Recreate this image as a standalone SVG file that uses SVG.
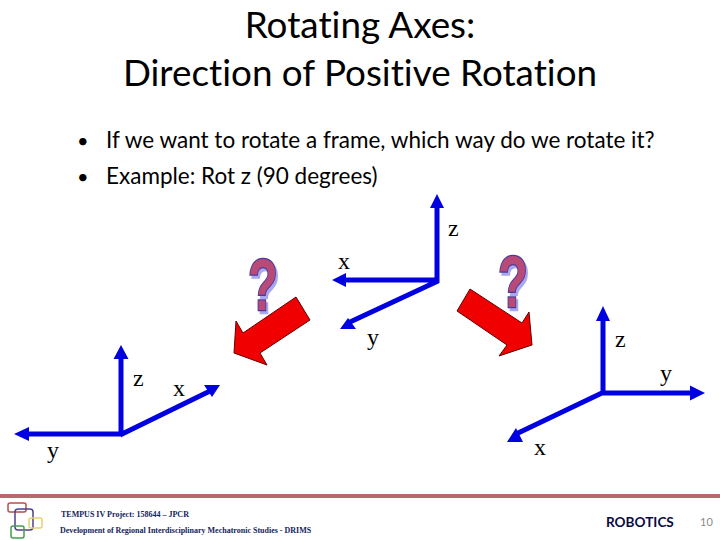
<svg xmlns="http://www.w3.org/2000/svg" width="720" height="540" viewBox="0 0 720 540">
<style>
.t{font-family:"Lato","Open Sans",sans-serif;fill:#000;font-variant-ligatures:none}
.s{font-family:"Liberation Serif",serif;font-size:24px;fill:#000}
.ax{stroke:#0000e0;stroke-width:5;fill:none}
.h{fill:#0000e0}
.red{fill:#f00000;stroke:#600;stroke-width:1}
.q{font-family:"Liberation Sans",sans-serif;font-weight:bold;font-size:72px;paint-order:stroke;stroke-width:2.5px;fill:#b84a78;stroke:#4a3a9a;filter:drop-shadow(3px 3px 0 #a8a8f0)}
.f{font-family:"Liberation Serif",serif;font-weight:bold;font-size:8px;fill:#14245c}
</style>
<rect width="720" height="540" fill="#fff"/>
<g id="title"><text class="t" x="360" y="38" font-size="36.800" text-anchor="middle">Rotating Axes:</text>
<text class="t" x="360" y="86" font-size="36.800" text-anchor="middle">Direction of Positive Rotation</text></g>
<g id="bullets"><text class="t" x="77" y="148" font-size="20">•</text><text class="t" x="106" y="148" font-size="22.500">If we want to rotate a frame, which way do we rotate it?</text>
<text class="t" x="77" y="184" font-size="20">•</text><text class="t" x="106" y="184" font-size="22.500">Example: Rot z (90 degrees)</text></g>
<g id="connectors">
<path class="ax" d="M437 283V204M439 280H344M438 281L350 322M121 434V358M120 435L210 391M122 434H27M603 393V318M601 393H692M604 392L516 434"/>
<path class="h" d="M437 194l7 14h-14zM332 280l14-7v14zM340 329h16l-8-11zM121 345l7.500 14h-15zM14 434l15-7v14zM220 385h-16l8 12zM705 393l-15-7.500v15zM603 306l7 15h-14zM507 442h16l-7-14z"/>
</g>
<g id="labels"><text class="s" x="448" y="236">z</text><text class="s" x="338" y="269">x</text><text class="s" x="367" y="345">y</text><text class="s" x="133" y="386">z</text><text class="s" x="173" y="396">x</text><text class="s" x="47" y="458">y</text><text class="s" x="615" y="347">z</text><text class="s" x="660" y="381">y</text><text class="s" x="534" y="455">x</text></g>
<g id="arrow-left"><path class="red" d="M296 297L310 320L260 353L267 365L234 353L236 321L243 333Z"/></g>
<g id="arrow-right"><path class="red" d="M470 289L457 311L507 345L499 356L532 345L529 312L522 323Z"/></g>
<g id="q-left"><text class="q" transform="translate(248 310) scale(.68 1)">?</text></g>
<g id="q-right"><text class="q" transform="translate(498 307) scale(.68 1)">?</text></g>
<g id="footer"><rect y="494" width="720" height="4" fill="#b56a6e"/>
<g fill="none" stroke-width="1.500"><rect x="8" y="503" width="18" height="9" rx="2" stroke="#b5504e"/><rect x="15" y="509" width="18" height="21" rx="3" stroke="#50408c"/><rect x="29" y="518" width="13" height="10" rx="2" stroke="#e8d070"/><rect x="11" y="526" width="13" height="12" rx="2" stroke="#4a9a50"/></g>
<text class="f" x="61" y="517">TEMPUS IV Project: 158644 – JPCR</text>
<text class="f" x="60" y="533">Development of Regional Interdisciplinary Mechatronic Studies - DRIMS</text>
<text x="606" y="527" font-family="Lato,sans-serif" font-weight="bold" font-size="13.600" fill="#0a0a40">ROBOTICS</text>
<text x="700" y="526" font-family="Lato,sans-serif" font-size="11" fill="#8a8a8a">10</text></g>
</svg>
